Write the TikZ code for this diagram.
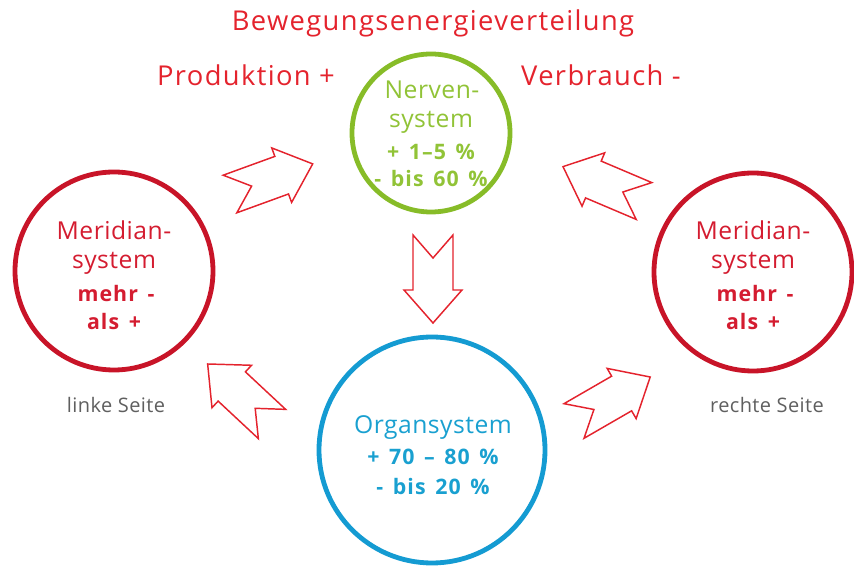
\documentclass[tikz,border=0pt]{standalone}
\usepackage{fontspec}
\setmainfont{Open Sans}
\definecolor{titlered}{RGB}{228,35,45}
\definecolor{ringred}{RGB}{200,20,40}
\definecolor{txtred}{RGB}{212,28,48}
\definecolor{ringgreen}{RGB}{135,188,40}
\definecolor{txtgreen}{RGB}{145,195,55}
\definecolor{ringblue}{RGB}{20,155,210}
\definecolor{txtblue}{RGB}{25,160,208}
\definecolor{greytxt}{RGB}{95,95,95}
\definecolor{arrowred}{RGB}{228,35,45}
\newcommand{\myboldfont}{\fontsize{16}{19}\selectfont\bfseries\addfontfeatures{LetterSpace=5}\spaceskip=0.45em plus 0.1em\relax}
\begin{document}
\begin{tikzpicture}[x=0.75pt,y=-0.75pt,
  ring/.style={circle, draw, line width=3.6pt, inner sep=0pt},
  bigtxt/.style={font={\fontsize{20.5}{24}\selectfont\addfontfeatures{LetterSpace=5}}, text=titlered, inner sep=0pt},
  maintxt/.style={font={\fontsize{18.5}{22}\selectfont\addfontfeatures{LetterSpace=2}}, inner sep=0pt},
  boldtxt/.style={font=\myboldfont, inner sep=0pt},
  sidetxt/.style={font={\fontsize{15}{18}\selectfont\addfontfeatures{LetterSpace=2}}, text=greytxt, inner sep=0pt},
  blockarrow/.pic={\draw[arrowred, line width=1.1pt, line join=miter, fill=white]
     (0,-20) -- (23,0) -- (0,20) -- (55,20) -- (55,29) -- (88,0) -- (55,-29) -- (55,-20) -- cycle;}
]
\useasboundingbox (0,0) rectangle (854,566);

% circles
\node[ring, draw=ringred, minimum size=148.5pt] (left) at (114,271) {};
\node[ring, draw=ringred, minimum size=148.5pt] (right) at (753,272) {};
\node[ring, draw=ringgreen, minimum size=118.5pt] (nerv) at (431,133) {};
\node[ring, draw=ringblue, minimum size=169.5pt] (organ) at (432,450) {};

% titles
\node[bigtxt] (title) at (433,23) {Bewegungsenergieverteilung};
\node[bigtxt] (prod) at (246,75) {Produktion +};
\node[bigtxt] (verb) at (601,75) {Verbrauch -};

% left text
\node[maintxt, text=txtred] (l1) at (114,230) {Meridian-};
\node[maintxt, text=txtred] (l2) at (114,263) {system};
\node[boldtxt, text=txtred] (l3) at (116,294) {mehr -};
\node[boldtxt, text=txtred] (l4) at (114,322) {als +};
\node[sidetxt] (ls) at (116,405) {linke Seite};

% right text
\node[maintxt, text=txtred] (r1) at (753,230) {Meridian-};
\node[maintxt, text=txtred] (r2) at (753,263) {system};
\node[boldtxt, text=txtred] (r3) at (755,294) {mehr -};
\node[boldtxt, text=txtred] (r4) at (753,322) {als +};
\node[sidetxt] (rs) at (767,405) {rechte Seite};

% green text
\node[maintxt, text=txtgreen] (n1) at (432,90) {Nerven-};
\node[maintxt, text=txtgreen] (n2) at (431,122) {system};
\node[boldtxt, text=txtgreen] (n3) at (431,152) {+ 1–5 \%};
\node[boldtxt, text=txtgreen] (n4) at (431,179) {- bis 60 \%};

% blue text
\node[maintxt, text=txtblue] (o1) at (433,428) {Organsystem};
\node[boldtxt, text=txtblue] (o2) at (433,457) {+ 70 – 80 \%};
\node[boldtxt, text=txtblue] (o3) at (433,487) {- bis 20 \%};

% block arrows
\coordinate (a1) at (230,194);
\coordinate (a2) at (433,235);
\coordinate (a3) at (272,424);
\coordinate (a4) at (574,421);
\coordinate (a5) at (644,201);
\pic[rotate=20] at (a1) {blockarrow};
\pic[rotate=-90] at (a2) {blockarrow};
\pic[rotate=137] at (a3) {blockarrow};
\pic[rotate=30] at (a4) {blockarrow};
\pic[rotate=157] at (a5) {blockarrow};
\end{tikzpicture}
\end{document}
